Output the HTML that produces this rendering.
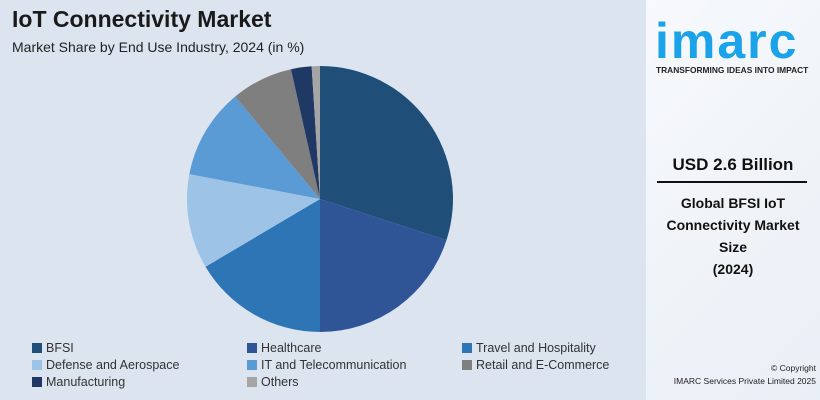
<!DOCTYPE html>
<html><head><meta charset="utf-8"><style>
body{margin:0;width:820px;height:400px;overflow:hidden;font-family:"Liberation Sans",sans-serif;background:#fff}
#left{position:absolute;left:0;top:0;width:646px;height:400px;background:#dce4f0}
#right{position:absolute;left:646px;top:0;width:174px;height:400px;background:linear-gradient(135deg,#f7f9fc,#e9eff6)}
.t{position:absolute;white-space:nowrap}
.leg{position:absolute;font-size:12.5px;color:#333;white-space:nowrap}
.leg span{display:inline-block;width:10px;height:10px;margin-right:4px;vertical-align:-1px}
</style></head><body>
<div id="left">
<div class="t" style="left:12px;top:6px;font-size:23px;font-weight:bold;color:#1a1a1a">IoT Connectivity Market</div>
<div class="t" style="left:12px;top:39px;font-size:14px;color:#222">Market Share by End Use Industry, 2024 (in %)</div>
<svg id="pie" width="646" height="400" style="position:absolute;left:0;top:0"></svg>
<div id="legend"></div>
</div>
<div id="right">
<div class="t" style="left:9px;top:12px;font-size:50px;font-weight:bold;color:#1aa3e8;letter-spacing:2px">imarc</div>
<div class="t" style="left:10px;top:65px;font-size:8.4px;font-weight:bold;color:#222">TRANSFORMING IDEAS INTO IMPACT</div>
<div class="t" style="left:0;width:174px;text-align:center;top:155px;font-size:17px;font-weight:bold;color:#111">USD 2.6 Billion</div>
<div style="position:absolute;left:11px;top:181px;width:150px;height:2px;background:#111"></div>
<div class="t" style="left:0;width:174px;text-align:center;top:192px;font-size:14px;font-weight:bold;color:#111;line-height:22px;white-space:normal">Global BFSI IoT<br>Connectivity Market<br>Size<br>(2024)</div>
<div class="t" style="left:0;width:170px;text-align:right;top:362px;font-size:8.5px;color:#222;line-height:13px">© Copyright<br>IMARC Services Private Limited 2025</div>
</div>
<script>
const categories=["BFSI","Healthcare","Travel and Hospitality","Defense and Aerospace","IT and Telecommunication","Retail and E-Commerce","Manufacturing","Others"];
const values=[30,20,16.5,11.5,11,7.5,2.5,1];
const colors=["#1f4e79","#2f5597","#2e75b6","#9dc3e6","#5b9bd5","#7f7f7f","#203864","#a5a5a5"];
const svg=document.getElementById('pie');const NS="http://www.w3.org/2000/svg";
const cx=320,cy=199,r=133;const total=values.reduce((a,b)=>a+b,0);
let a0=0;
values.forEach((v,i)=>{const a1=a0+v/total*2*Math.PI;
const x0=cx+r*Math.sin(a0),y0=cy-r*Math.cos(a0),x1=cx+r*Math.sin(a1),y1=cy-r*Math.cos(a1);
const p=document.createElementNS(NS,'path');
p.setAttribute('d',`M${cx},${cy}L${x0},${y0}A${r},${r} 0 ${a1-a0>Math.PI?1:0} 1 ${x1},${y1}Z`);
p.setAttribute('fill',colors[i]);


svg.appendChild(p);a0=a1;});
const lg=document.getElementById('legend');
const lx=[32,247,462];
categories.forEach((c,i)=>{const d=document.createElement('div');d.className='leg';
d.style.left=lx[i%3]+'px';d.style.top=(341+Math.floor(i/3)*17)+'px';
d.innerHTML=`<span style="background:${colors[i]}"></span>${c}`;


lg.appendChild(d);});
</script>
</body></html>
